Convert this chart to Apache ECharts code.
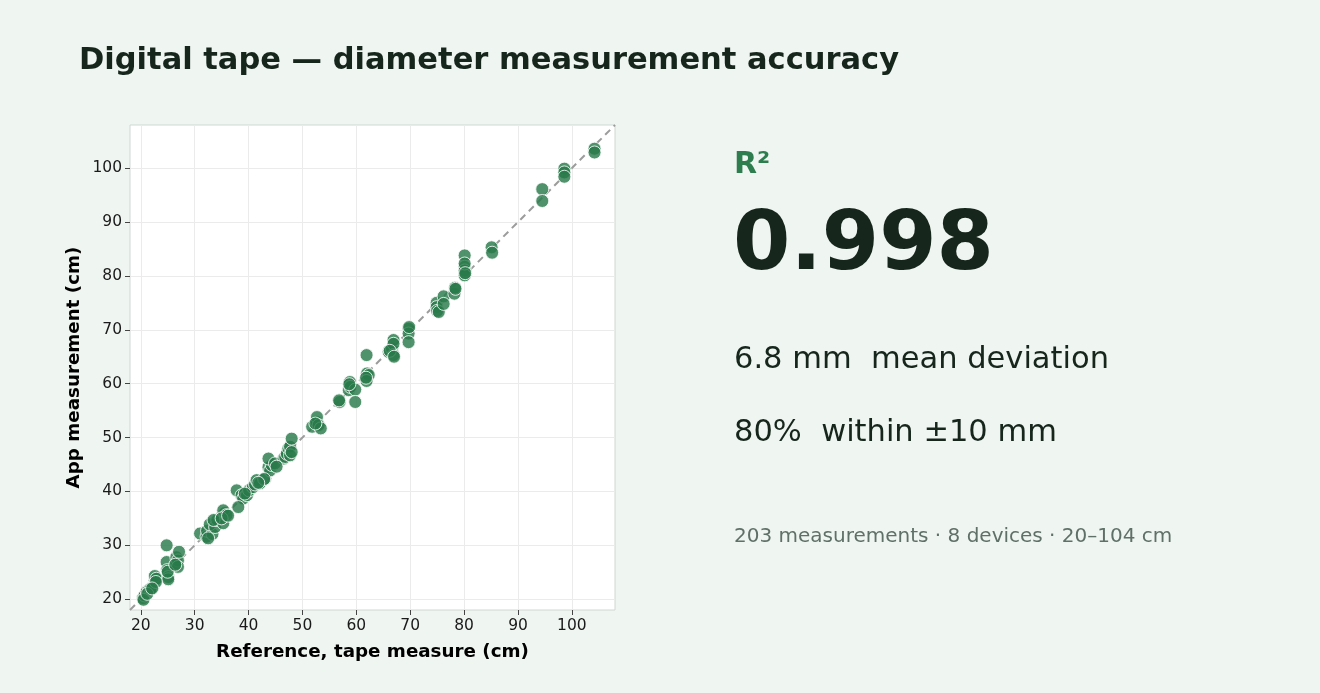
<!DOCTYPE html>
<html>
<head>
<meta charset="utf-8">
<title>Digital tape accuracy</title>
<script src="https://cdn.jsdelivr.net/npm/echarts@6/dist/echarts.min.js"></script>
<style>
  html, body { margin: 0; padding: 0; background: #eff5f1; }
  #chart { width: 1320px; height: 693px; }
</style>
</head>
<body>
<div id="chart"></div>
<script>
// reference tape measure (cm) vs app reading (cm)
var refCm = [
  20.4, 20.7, 21.1, 21.5, 22.3, 22.6, 22.6, 22.9, 24.8, 24.8, 24.9, 25.1, 25.1,
  26.6, 26.6, 26.9, 27.1, 26.9, 20.5, 21.8, 22.8, 25.0, 26.4, 21.2, 22.1,
  31.0, 32.2, 32.3, 33.3, 32.8, 33.8, 34.2, 35.0, 35.6, 35.3, 33.5, 35.3, 35.9, 35.0, 36.2, 32.5,
  37.8, 38.7, 39.0, 39.7, 38.1, 40.1, 40.8, 41.2, 41.5, 42.1, 43.1, 43.7, 44.0, 44.3, 43.7, 44.9,
  46.5, 46.8, 47.1, 47.4, 47.7, 48.0, 47.7, 48.0, 42.9, 39.3, 41.8, 45.2,
  51.8, 52.6, 52.7, 53.0, 53.4, 52.4,
  56.9, 56.8, 58.6, 58.8, 58.9, 59.8, 59.8, 58.7,
  61.9, 62.0, 62.3, 61.9, 61.8,
  66.0, 66.6, 66.9, 66.9, 66.9, 66.2, 67.0,
  69.7, 69.7, 69.7, 69.8,
  74.9, 74.9, 75.0, 75.3, 76.2, 76.2, 78.2, 78.3, 78.4,
  80.1, 80.1, 80.1, 80.1, 80.1, 80.2,
  85.1, 85.2,
  94.5, 94.5,
  98.6, 98.6, 98.6,
  104.2, 104.2
];
var appCm = [
  20.2, 20.7, 21.4, 21.7, 22.3, 23.5, 24.3, 23.8, 30.0, 26.9, 25.4, 24.1, 23.7,
  26.7, 27.8, 27.2, 28.8, 26.0, 19.9, 21.9, 23.2, 25.1, 26.4, 21.0, 22.0,
  32.2, 31.6, 32.7, 32.1, 33.9, 33.4, 34.7, 35.3, 36.0, 34.1, 34.7, 36.5, 35.6, 35.0, 35.5, 31.3,
  40.2, 39.3, 38.7, 39.3, 37.1, 40.2, 40.8, 41.3, 42.1, 41.5, 42.4, 44.5, 43.9, 44.9, 46.1, 45.2,
  46.1, 46.4, 47.0, 48.0, 48.3, 49.8, 46.7, 47.3, 42.3, 39.6, 41.6, 44.6,
  52.0, 52.9, 53.8, 52.3, 51.7, 52.6,
  56.6, 56.9, 58.8, 60.3, 59.4, 58.9, 56.6, 59.9,
  65.3, 61.9, 61.6, 60.5, 61.1,
  65.9, 66.5, 68.1, 67.4, 65.3, 66.1, 65.0,
  70.2, 69.3, 67.7, 70.5,
  75.0, 74.2, 73.5, 73.3, 76.2, 74.8, 76.7, 77.8, 77.6,
  83.8, 81.7, 81.0, 80.1, 82.3, 80.5,
  85.3, 84.3,
  96.1, 93.9,
  99.9, 99.2, 98.4,
  103.6, 102.9
];
var tickValues = [20, 30, 40, 50, 60, 70, 80, 90, 100];
var parityLine = [[18, 18], [108, 108]];

var points = refCm.map(function (x, i) {
    return [x, appCm[i]];
});

var FONT = 'DejaVu Sans';
var INK = '#16261d';

var myChart = echarts.init(document.getElementById('chart'), null, {renderer: 'canvas'});

function axisOf(name, gap) {
    return {
        type: 'value',
        min: 18,
        max: 108,
        name: name,
        nameLocation: 'middle',
        nameGap: gap,
        nameTextStyle: {fontFamily: FONT, fontSize: 18.3, fontWeight: 'bold', color: '#000'},
        axisLine: {show: false},
        axisTick: {
            show: true,
            length: 5,
            customValues: tickValues,
            lineStyle: {color: '#444', width: 1}
        },
        axisLabel: {
            customValues: tickValues,
            fontFamily: FONT,
            fontSize: 15.5,
            color: '#1a1a1a',
            margin: 8
        },
        splitLine: {show: true, lineStyle: {color: '#ebebeb', width: 1}}
    };
}

myChart.setOption({
    backgroundColor: '#eff5f1',
    animation: false,
    grid: {
        left: 130,
        top: 125,
        width: 485,
        height: 485,
        show: true,
        backgroundColor: '#ffffff',
        borderColor: '#cfd8d3',
        borderWidth: 1
    },
    xAxis: axisOf('Reference, tape measure (cm)', 33),
    yAxis: axisOf('App measurement (cm)', 47),
    series: [
        {
            type: 'line',
            data: parityLine,
            symbol: 'none',
            silent: true,
            z: 1,
            lineStyle: {color: '#9c9c9c', width: 2, type: [7, 5]}
        },
        {
            type: 'scatter',
            data: points,
            symbolSize: 13,
            z: 2,
            itemStyle: {
                color: '#2a7a4b',
                opacity: 0.82,
                borderColor: '#ffffff',
                borderWidth: 1
            }
        }
    ],
    graphic: [
        {
            type: 'text', x: 79, y: 61,
            style: {text: 'Digital tape — diameter measurement accuracy', font: 'bold 30.5px ' + FONT, fill: INK, textVerticalAlign: 'middle'}
        },
        {
            type: 'text', x: 734, y: 165,
            style: {text: 'R²', font: 'bold 30px ' + FONT, fill: '#2e7d4f', textVerticalAlign: 'middle'}
        },
        {
            type: 'text', x: 733, y: 248,
            style: {text: '0.998', font: 'bold 82.5px ' + FONT, fill: INK, textVerticalAlign: 'middle'}
        },
        {
            type: 'text', x: 734, y: 360,
            style: {text: '6.8 mm  mean deviation', font: '30.5px ' + FONT, fill: INK, textVerticalAlign: 'middle'}
        },
        {
            type: 'text', x: 734, y: 433,
            style: {text: '80%  within ±10 mm', font: '30.5px ' + FONT, fill: INK, textVerticalAlign: 'middle'}
        },
        {
            type: 'text', x: 734, y: 537,
            style: {text: '203 measurements · 8 devices · 20–104 cm', font: '20px ' + FONT, fill: '#5f7068', textVerticalAlign: 'middle'}
        }
    ]
});
</script>
</body>
</html>
